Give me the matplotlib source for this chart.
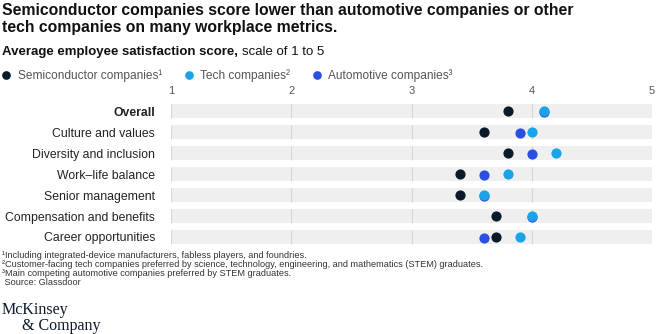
import matplotlib.pyplot as plt
import matplotlib.transforms as mtransforms

plt.rcParams['font.family'] = ['Liberation Sans', 'DejaVu Sans']

categories = ['Overall', 'Culture and values', 'Diversity and inclusion', 'Work\u2013life balance',
              'Senior management', 'Compensation and benefits', 'Career opportunities']
semiconductor = [3.8, 3.6, 3.8, 3.4, 3.4, 3.7, 3.7]
tech = [4.1, 4.0, 4.2, 3.8, 3.6, 4.0, 3.9]
automotive = [4.1, 3.9, 4.0, 3.6, 3.6, 4.0, 3.6]
ticks = [1, 2, 3, 4, 5]

c_semi = '#0b1a2b'
c_tech = '#1ba3e8'
c_auto = '#2a4fe4'
band = '#efefef'
grid = '#d6d6d6'

fig = plt.figure(figsize=(6.6, 3.34), dpi=100)
ax = fig.add_axes([0.259, 0.259, 0.729, 0.44])

ypos = list(range(len(categories)))
h = 0.67
ax.barh(ypos, ticks[-1] - ticks[0], left=ticks[0], height=h, color=band, zorder=1)
for y in ypos:
    ax.vlines(ticks, y - h / 2, y + h / 2, color=grid, linewidth=0.8, zorder=2)

# automotive dots sit a touch lower so overlaps show both colours
down = mtransforms.offset_copy(ax.transData, fig=fig, x=0, y=-0.8, units='points')
s = 54
ax.scatter(semiconductor, ypos, s=s, color=c_semi, zorder=4, linewidths=0, clip_on=False,
           label='Semiconductor companies\u00b9')
ax.scatter(automotive, ypos, s=s, color=c_auto, zorder=4, linewidths=0, clip_on=False,
           transform=down, label='Automotive companies\u00b3')
ax.scatter(tech, ypos, s=s, color=c_tech, zorder=5, linewidths=0, clip_on=False,
           label='Tech companies\u00b2')

ax.set_xlim(ticks[0], ticks[-1])
ax.set_ylim(len(categories) - 0.5, -0.5)
ax.set_xticks(ticks)
ax.xaxis.tick_top()
ax.tick_params(axis='x', length=0, pad=3, labelsize=8, labelcolor='#555555')
ax.set_yticks(ypos)
ax.set_yticklabels(categories)
ax.tick_params(axis='y', length=0, pad=11.5, labelsize=8.8, labelcolor='#222222')
ax.get_yticklabels()[0].set_fontweight('bold')
for sp in ax.spines.values():
    sp.set_visible(False)

fig.text(0.003, 0.99, 'Semiconductor companies score lower than automotive companies or other\n'
         'tech companies on many workplace metrics.', fontsize=11.3, fontweight='bold',
         va='top', ha='left', color='#111111', linespacing=1.1)
t = fig.text(0.003, 0.844, 'Average employee satisfaction score,', fontsize=9.5, fontweight='bold',
             va='center', ha='left', color='#111111')
fig.canvas.draw()
bb = t.get_window_extent()
fig.text(bb.x1 / fig.bbox.width + 0.006, 0.844, 'scale of 1 to 5', fontsize=9.5,
         va='center', ha='left', color='#111111')

handles, labels = ax.get_legend_handles_labels()
order = [0, 2, 1]
fig.legend([handles[i] for i in order], [labels[i] for i in order], loc='center left',
           bbox_to_anchor=(0.003, 0.775), ncol=3, frameon=False, fontsize=8.6,
           handlelength=0.7, handletextpad=0.6, columnspacing=1.9, borderpad=0,
           borderaxespad=0, labelcolor='#555555', markerscale=0.85)

notes = ['\u00b9Including integrated-device manufacturers, fabless players, and foundries.',
         '\u00b2Customer-facing tech companies preferred by science, technology, engineering, and mathematics (STEM) graduates.',
         '\u00b3Main competing automotive companies preferred by STEM graduates.',
         ' Source: Glassdoor']
for i, n in enumerate(notes):
    fig.text(0.003, 0.236 - i * 0.027, n, fontsize=6.6, va='center', ha='left', color='#333333')

fig.text(0.003, 0.072, 'McKinsey', fontsize=11.5, family='Liberation Serif', va='center',
         ha='left', color='#0b1a2b')
fig.text(0.033, 0.025, '& Company', fontsize=11.5, family='Liberation Serif', va='center',
         ha='left', color='#0b1a2b')

fig.savefig('out.png', dpi=100)
